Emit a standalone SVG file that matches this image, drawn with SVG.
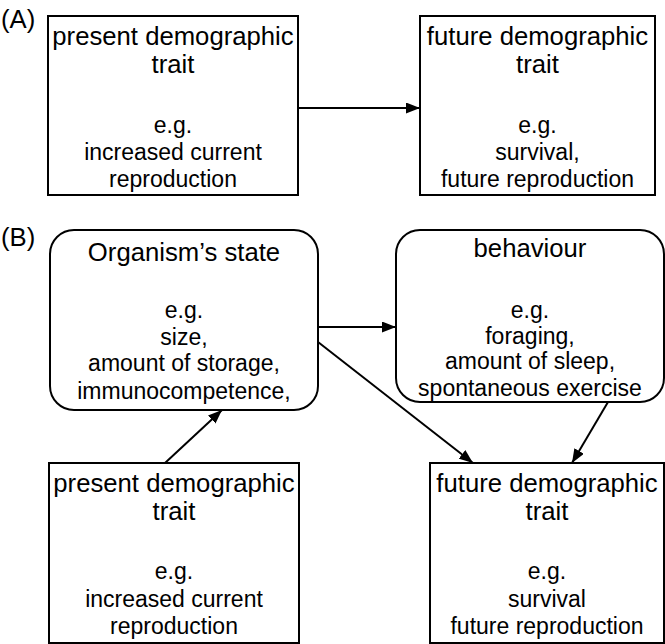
<svg xmlns="http://www.w3.org/2000/svg" width="665" height="644" viewBox="0 0 665 644">
<style>
.box{fill:#fff;stroke:#000;stroke-width:2}
text{font-family:"Liberation Sans",Arial,Helvetica,sans-serif;fill:#000;text-anchor:middle}
.t{font-size:25.7px}
.b{font-size:23px}
.lbl{font-size:25.7px;text-anchor:start}
.c{stroke:#000;stroke-width:2;fill:none;marker-end:url(#ah)}
</style>
<defs>
<marker id="ah" viewBox="0 0 14 11" refX="14" refY="5.5" markerWidth="14" markerHeight="11" markerUnits="userSpaceOnUse" orient="auto">
<path d="M0,0 L14,5.5 L0,11 Z" fill="#000"/>
</marker>
</defs>
<text class="lbl" x="1" y="28">(A)</text>
<text class="lbl" x="1" y="246">(B)</text>
<g id="connectors">
<line class="c" x1="298" y1="108" x2="420" y2="108"/>
<line class="c" x1="318" y1="327" x2="396" y2="327"/>
<line class="c" x1="318" y1="342" x2="473" y2="463"/>
<line class="c" x1="608" y1="402" x2="572" y2="463"/>
<line class="c" x1="165" y1="463" x2="222" y2="410"/>
</g>
<g id="a-present">
<rect class="box" x="48" y="16" width="250" height="179"/>
<text class="t" x="173" y="45">present demographic</text>
<text class="t" x="173" y="73">trait</text>
<text class="b" x="173" y="133">e.g.</text>
<text class="b" x="173" y="160">increased current</text>
<text class="b" x="173" y="187">reproduction</text>
</g>
<g id="a-future">
<rect class="box" x="420" y="16" width="235" height="179"/>
<text class="t" x="537.5" y="45">future demographic</text>
<text class="t" x="537.5" y="73">trait</text>
<text class="b" x="537.5" y="133">e.g.</text>
<text class="b" x="537.5" y="160">survival,</text>
<text class="b" x="537.5" y="187">future reproduction</text>
</g>
<g id="b-state">
<rect class="box" x="50" y="230" width="268" height="180" rx="24" ry="24"/>
<text class="t" x="184" y="261">Organism’s state</text>
<text class="b" x="184" y="318">e.g.</text>
<text class="b" x="184" y="345">size,</text>
<text class="b" x="184" y="371">amount of storage,</text>
<text class="b" x="184" y="399">immunocompetence,</text>
</g>
<g id="b-behaviour">
<rect class="box" x="396" y="230" width="268" height="172" rx="24" ry="24"/>
<text class="t" x="530" y="257">behaviour</text>
<text class="b" x="530" y="318">e.g.</text>
<text class="b" x="530" y="344">foraging,</text>
<text class="b" x="530" y="369">amount of sleep,</text>
<text class="b" x="530" y="396">spontaneous exercise</text>
</g>
<g id="b-present">
<rect class="box" x="49" y="463" width="250" height="180"/>
<text class="t" x="174" y="492">present demographic</text>
<text class="t" x="174" y="520">trait</text>
<text class="b" x="174" y="579">e.g.</text>
<text class="b" x="174" y="607">increased current</text>
<text class="b" x="174" y="634">reproduction</text>
</g>
<g id="b-future">
<rect class="box" x="430" y="463" width="234" height="180"/>
<text class="t" x="547" y="492">future demographic</text>
<text class="t" x="547" y="520">trait</text>
<text class="b" x="547" y="579">e.g.</text>
<text class="b" x="547" y="607">survival</text>
<text class="b" x="547" y="634">future reproduction</text>
</g>
</svg>
